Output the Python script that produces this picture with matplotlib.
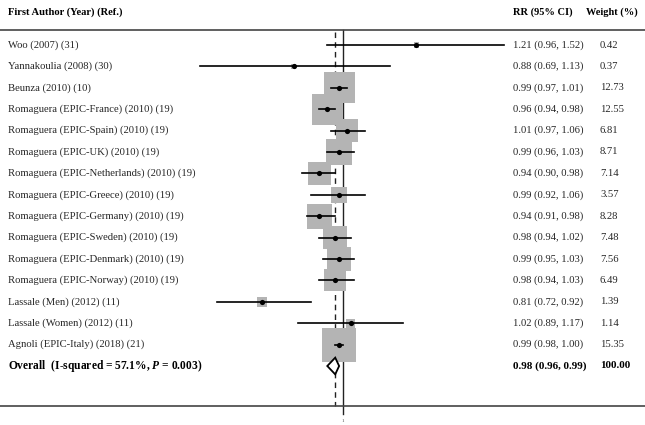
import numpy as np
import matplotlib.pyplot as plt

plt.rcParams['font.family'] = ['Liberation Serif', 'DejaVu Serif']
plt.rcParams['mathtext.fontset'] = 'custom'
plt.rcParams['mathtext.rm'] = 'Liberation Serif'
plt.rcParams['mathtext.bf'] = 'Liberation Serif:bold'
plt.rcParams['mathtext.bfit'] = 'Liberation Serif:italic:bold'

studies = [
    "Woo (2007) (31)",
    "Yannakoulia (2008) (30)",
    "Beunza (2010) (10)",
    "Romaguera (EPIC-France) (2010) (19)",
    "Romaguera (EPIC-Spain) (2010) (19)",
    "Romaguera (EPIC-UK) (2010) (19)",
    "Romaguera (EPIC-Netherlands) (2010) (19)",
    "Romaguera (EPIC-Greece) (2010) (19)",
    "Romaguera (EPIC-Germany) (2010) (19)",
    "Romaguera (EPIC-Sweden) (2010) (19)",
    "Romaguera (EPIC-Denmark) (2010) (19)",
    "Romaguera (EPIC-Norway) (2010) (19)",
    "Lassale (Men) (2012) (11)",
    "Lassale (Women) (2012) (11)",
    "Agnoli (EPIC-Italy) (2018) (21)",
]
rr = [1.21, 0.88, 0.99, 0.96, 1.01, 0.99, 0.94, 0.99, 0.94, 0.98, 0.99, 0.98, 0.81, 1.02, 0.99]
lo = [0.96, 0.69, 0.97, 0.94, 0.97, 0.96, 0.90, 0.92, 0.91, 0.94, 0.95, 0.94, 0.72, 0.89, 0.98]
hi = [1.52, 1.13, 1.01, 0.98, 1.06, 1.03, 0.98, 1.06, 0.98, 1.02, 1.03, 1.03, 0.92, 1.17, 1.00]
weights = [0.42, 0.37, 12.73, 12.55, 6.81, 8.71, 7.14, 3.57, 8.28, 7.48, 7.56, 6.49, 1.39, 1.14, 15.35]

overall_rr, overall_lo, overall_hi = 0.98, 0.96, 0.99
overall_weight = "100.00"
overall_label = r"Overall  (I-squared = 57.1%, $\mathbfit{P}$ = 0.003)"

W, H = 645, 425
px_per_ln = 385.0
x_null = 343.0
row0, row_step = 45.0, 21.4
fs = 7.7
txt_col = '#262626'

fig = plt.figure(figsize=(W / 100, H / 100), dpi=100)
ax = fig.add_axes([0, 0, 1, 1])
ax.set_xscale('log')
ax.set_xlim(np.exp(-x_null / px_per_ln), np.exp((W - x_null) / px_per_ln))
ax.set_ylim((H - row0) / row_step, -row0 / row_step)
ax.axis('off')
tr = ax.get_yaxis_transform()


def yrow(py):
    return (py - row0) / row_step


n = len(studies)
rows = np.arange(n)
ov_row = n

# header
ax.text(8 / W, yrow(12), "First Author (Year) (Ref.)", transform=tr,
        fontsize=7.6, fontweight='bold', va='center')
ax.text(513 / W, yrow(12), "RR (95% CI)", transform=tr,
        fontsize=7.5, fontweight='bold', va='center')
ax.text(586 / W, yrow(12), "Weight (%)", transform=tr,
        fontsize=7.5, fontweight='bold', va='center')

# frame lines
ax.axhline(yrow(30), color='#444444', lw=1.2)
ax.axhline(yrow(406), color='#444444', lw=1.2)

# reference lines
ax.plot([1, 1], [yrow(30), yrow(414)], color='#222222', lw=1.0, zorder=1)
ax.plot([overall_rr] * 2, [yrow(32), yrow(406)], color='#222222', lw=1.0,
        ls=(0, (4, 3)), zorder=1)
ax.text(1, yrow(421), "1", fontsize=3.5, ha='center', va='center', color='#444444')

# weight boxes
side_pt = 8.68 * np.sqrt(weights) * 72 / 100
ax.scatter(rr, rows, s=side_pt ** 2, marker='s', color='#b4b4b4', lw=0, zorder=2)

# CIs and points
for i in range(n):
    ax.plot([lo[i], hi[i]], [i, i], color='black', lw=1.2, zorder=3)
ax.scatter(rr, rows, s=14, color='black', zorder=4, lw=0)

# overall diamond
dh = 0.39
ax.fill([overall_lo, overall_rr, overall_hi, overall_rr],
        [ov_row, ov_row - dh, ov_row, ov_row + dh],
        facecolor='white', edgecolor='black', lw=1.3, zorder=5)

# text columns
for i in range(n):
    ax.text(8 / W, i, studies[i], transform=tr, fontsize=fs, va='center', color=txt_col)
    ax.text(513 / W, i, f"{rr[i]:.2f} ({lo[i]:.2f}, {hi[i]:.2f})",
            transform=tr, fontsize=fs, va='center', color=txt_col)
    ax.text(600 / W, i, f"{weights[i]:.2f}", transform=tr,
            fontsize=fs, va='center', color=txt_col)

ax.text(8 / W, ov_row, overall_label, transform=tr,
        fontsize=8.3, fontweight='bold', va='center')
ax.text(513 / W, ov_row, f"{overall_rr:.2f} ({overall_lo:.2f}, {overall_hi:.2f})",
        transform=tr, fontsize=8.0, fontweight='bold', va='center')
ax.text(600 / W, ov_row, overall_weight, transform=tr,
        fontsize=8.0, fontweight='bold', va='center')

fig.savefig("out.png", dpi=100)
